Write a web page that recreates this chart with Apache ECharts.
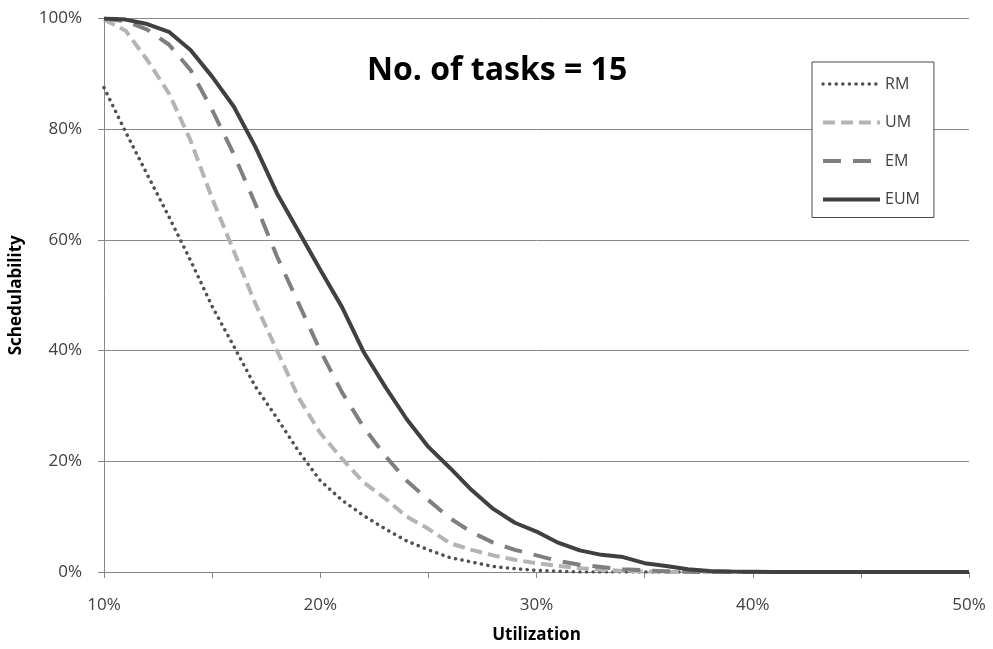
<!DOCTYPE html>
<html>
<head>
<meta charset="utf-8">
<script src="https://cdn.jsdelivr.net/npm/echarts@6/dist/echarts.min.js"></script>
<style>html,body{margin:0;padding:0;background:#fff;}#chart{width:993px;height:649px;}</style>
</head>
<body>
<div id="chart"></div>
<script>
// Utilization categories 10% .. 50% in 1% steps
const utilization = [];
for (let u = 10; u <= 50; u++) utilization.push(u + '%');

const yTicks = ['0%', '20%', '40%', '60%', '80%', '100%'];

const RM = [87.5, 79.5, 71.8, 64.2, 56.3, 48.0, 40.8, 33.5, 27.8, 21.8,
  16.5, 13.0, 10.2, 7.8, 5.6, 4.0, 2.6, 1.8, 1.0, 0.6,
  0.3, 0.15, 0, 0, 0, 0, 0, 0, 0, 0,
  0, 0, 0, 0, 0, 0, 0, 0, 0, 0, 0];
const UM = [99.8, 97.8, 92.5, 86.5, 78.0, 67.5, 58.0, 48.5, 40.0, 31.5,
  25.1, 20.5, 16.2, 13.3, 10.0, 7.8, 5.2, 4.0, 3.0, 2.2,
  1.6, 1.1, 0.7, 0.4, 0.2, 0.1, 0, 0, 0, 0,
  0, 0, 0, 0, 0, 0, 0, 0, 0, 0, 0];
const EM = [100, 99.5, 98.0, 95.3, 90.7, 83.5, 75.5, 66.5, 57.0, 48.5,
  40.0, 32.5, 26.2, 21.0, 16.5, 13.0, 9.7, 7.2, 5.3, 4.0,
  3.0, 2.0, 1.3, 0.9, 0.5, 0.3, 0.15, 0.05, 0, 0,
  0, 0, 0, 0, 0, 0, 0, 0, 0, 0, 0];
const EUM = [100, 99.8, 99.0, 97.6, 94.3, 89.5, 84.1, 76.8, 68.4, 61.5,
  54.6, 47.9, 39.8, 33.5, 27.6, 22.6, 18.8, 14.8, 11.4, 8.9,
  7.3, 5.3, 3.9, 3.1, 2.7, 1.6, 1.1, 0.5, 0.2, 0.1,
  0.05, 0, 0, 0, 0, 0, 0, 0, 0, 0, 0];

const seriesNames = ['RM', 'UM', 'EM', 'EUM'];
const seriesData = [RM, UM, EM, EUM];
const seriesStyles = [
  { color: '#505050', width: 3.5, type: [0.1, 6.5], cap: 'round' },
  { color: '#b4b4b4', width: 4, type: [12, 6], cap: 'butt' },
  { color: '#7f7f7f', width: 4, type: [18, 12], cap: 'butt' },
  { color: '#404040', width: 4, type: 'solid', cap: 'butt' }
];

const FONT = '"Open Sans", "DejaVu Sans", sans-serif';
const chart = echarts.init(document.getElementById('chart'), null, { renderer: 'canvas' });

chart.setOption({
  animation: false,
  backgroundColor: '#ffffff',
  title: {
    text: 'No. of tasks = 15',
    left: 362, top: 50,
    textStyle: { fontFamily: FONT, fontWeight: 'bold', fontSize: 32, color: '#000000' }
  },
  legend: {
    orient: 'vertical',
    left: 812, top: 62,
    width: 127,
    padding: [14, 14, 10, 9],
    itemWidth: 57, itemHeight: 14, itemGap: 22.5,
    backgroundColor: '#ffffff',
    borderColor: '#4a4a4a', borderWidth: 1,
    itemStyle: { opacity: 0 },
    textStyle: { fontFamily: FONT, fontSize: 16, color: '#404040' },
    data: seriesNames.map(function (name, i) {
      return {
        name: name,
        itemStyle: { opacity: 0 },
        lineStyle: {
          color: seriesStyles[i].color,
          width: seriesStyles[i].width,
          type: seriesStyles[i].type,
          cap: seriesStyles[i].cap
        }
      };
    })
  },
  grid: { left: 104, right: 24, top: 18.5, bottom: 77, containLabel: false, outerBoundsMode: 'none' },
  xAxis: {
    type: 'category',
    data: utilization,
    boundaryGap: false,
    name: 'Utilization',
    nameLocation: 'middle',
    nameGap: 55,
    nameTextStyle: { fontFamily: FONT, fontWeight: 'bold', fontSize: 17, color: '#000000' },
    axisLine: { lineStyle: { color: '#868686', width: 1 } },
    axisTick: { show: true, interval: 4, length: 6, inside: false, lineStyle: { color: '#868686' } },
    axisLabel: { interval: 9, fontFamily: FONT, fontSize: 17, color: '#404040', margin: 25 },
    splitLine: { show: false }
  },
  yAxis: {
    type: 'value',
    min: 0, max: 100, interval: 20,
    name: 'Schedulability',
    nameLocation: 'middle',
    nameGap: 79,
    nameRotate: 90,
    nameTextStyle: { fontFamily: FONT, fontWeight: 'bold', fontSize: 17, color: '#000000' },
    axisLine: { show: true, lineStyle: { color: '#868686', width: 1 } },
    axisTick: { show: true, length: 6, lineStyle: { color: '#868686' } },
    axisLabel: {
      fontFamily: FONT, fontSize: 17, color: '#404040', margin: 22,
      formatter: function (v) { return yTicks[Math.round(v / 20)]; }
    },
    splitLine: { show: true, lineStyle: { color: '#888888', width: 1 } }
  },
  series: seriesNames.map(function (name, i) {
    return {
      name: name,
      type: 'line',
      data: seriesData[i],
      symbol: 'none',
      showSymbol: false,
      smooth: false,
      itemStyle: { color: seriesStyles[i].color },
      lineStyle: {
        color: seriesStyles[i].color,
        width: seriesStyles[i].width,
        type: seriesStyles[i].type,
        cap: seriesStyles[i].cap
      },
      z: 2 + i
    };
  })
});
</script>
</body>
</html>
